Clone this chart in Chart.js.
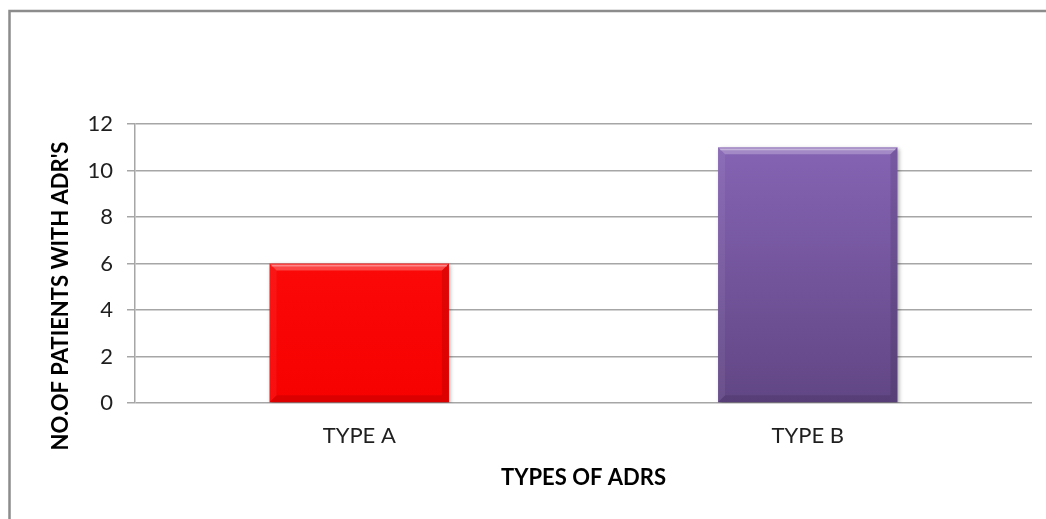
<!DOCTYPE html>
<html>
<head>
<meta charset="utf-8">
<title>Types of ADRs</title>
<script src="https://cdn.jsdelivr.net/npm/chart.js@4/dist/chart.umd.min.js"></script>
<style>
  html, body { margin: 0; padding: 0; background: #ffffff; }
  #wrap { position: relative; width: 1046px; height: 519px; }
</style>
</head>
<body>
<div id="wrap"><canvas id="chart" width="1046" height="519"></canvas></div>
<script>
// Chart data
const categories = ['TYPE A', 'TYPE B'];
const patientCounts = [6, 11];
const xAxisTitle = 'TYPES OF ADRS';
const yAxisTitle = "NO.OF PATIENTS WITH ADR'S";

// Fill colours per bar: [top, bottom] of a vertical gradient
const barShades = [
  ['#ff1010', '#f70000'],
  ['#8866b8', '#614684']
];

const FONT = 'Lato, "Open Sans", sans-serif';

function barFill(ctx) {
  const chart = ctx.chart;
  const area = chart.chartArea;
  const shade = barShades[ctx.dataIndex % barShades.length];
  if (!area) return shade[0];
  const g = chart.ctx.createLinearGradient(0, area.top, 0, area.bottom);
  g.addColorStop(0, shade[0]);
  g.addColorStop(1, shade[1]);
  return g;
}

// Frame around the chart, white background
const framePlugin = {
  id: 'frame',
  beforeDraw(chart) {
    const c = chart.ctx;
    c.save();
    c.fillStyle = '#ffffff';
    c.fillRect(0, 0, chart.width, chart.height);
    c.strokeStyle = '#8c8c8c';
    c.lineWidth = 2.5;
    c.strokeRect(9.5, 11, chart.width + 20, chart.height + 20);
    c.restore();
  }
};

// Soft drop shadow under the bars plus a bevelled rim
const bevelPlugin = {
  id: 'bevel',
  beforeDatasetsDraw(chart) {
    const c = chart.ctx;
    c.save();
    c.shadowColor = 'rgba(0,0,0,0.35)';
    c.shadowBlur = 4;
    c.shadowOffsetX = 1.5;
    c.shadowOffsetY = 1.5;
  },
  afterDatasetsDraw(chart) {
    const c = chart.ctx;
    c.restore();
    const meta = chart.getDatasetMeta(0);
    meta.data.forEach((bar) => {
      const p = bar.getProps(['x', 'y', 'base', 'width'], true);
      const l = p.x - p.width / 2, r = p.x + p.width / 2;
      const t = p.y, b = p.base, d = 7;
      c.save();
      // top rim (light)
      c.beginPath();
      c.moveTo(l, t); c.lineTo(r, t); c.lineTo(r - d, t + d); c.lineTo(l + d, t + d); c.closePath();
      c.fillStyle = 'rgba(255,255,255,0.25)';
      c.fill();
      // left rim (slightly light)
      c.beginPath();
      c.moveTo(l, t); c.lineTo(l + d, t + d); c.lineTo(l + d, b - d); c.lineTo(l, b); c.closePath();
      c.fillStyle = 'rgba(255,255,255,0.06)';
      c.fill();
      // right rim (dark)
      c.beginPath();
      c.moveTo(r, t); c.lineTo(r - d, t + d); c.lineTo(r - d, b - d); c.lineTo(r, b); c.closePath();
      c.fillStyle = 'rgba(0,0,0,0.10)';
      c.fill();
      // bottom rim (dark)
      c.beginPath();
      c.moveTo(l, b); c.lineTo(l + d, b - d); c.lineTo(r - d, b - d); c.lineTo(r, b); c.closePath();
      c.fillStyle = 'rgba(0,0,0,0.10)';
      c.fill();
      // thin highlight line along the top
      c.fillStyle = 'rgba(255,255,255,0.35)';
      c.fillRect(l + 2, t + 1.5, p.width - 4, 1.5);
      c.restore();
    });
  }
};

// Vertical axis title, placed to the left of the tick labels
const yTitlePlugin = {
  id: 'yTitle',
  afterDraw(chart) {
    const c = chart.ctx;
    c.save();
    c.translate(61, 296);
    c.rotate(-Math.PI / 2);
    c.font = 'bold 22px ' + FONT;
    c.fillStyle = '#000000';
    c.textAlign = 'center';
    c.textBaseline = 'middle';
    c.fillText(yAxisTitle, 0, 0);
    c.restore();
  }
};

new Chart(document.getElementById('chart'), {
  type: 'bar',
  data: {
    labels: categories,
    datasets: [{
      data: patientCounts,
      backgroundColor: barFill,
      borderWidth: 0,
      categoryPercentage: 0.8,
      barPercentage: 0.5
    }]
  },
  options: {
    responsive: false,
    animation: false,
    events: [],
    layout: { padding: { top: 124, right: 14, left: 0, bottom: 0 } },
    plugins: {
      legend: { display: false },
      tooltip: { enabled: false },
      title: { display: false }
    },
    scales: {
      x: {
        grid: { display: false, drawTicks: false },
        border: { display: false },
        ticks: {
          color: '#1f1f1f',
          font: { family: FONT, size: 22 },
          padding: 20
        },
        title: {
          display: true,
          text: xAxisTitle,
          color: '#000000',
          font: { family: FONT, size: 22, weight: 'bold' },
          padding: { top: 0, bottom: 28 }
        },
        afterFit(scale) { scale.height = 116; }
      },
      y: {
        min: 0,
        max: 12,
        ticks: {
          stepSize: 2,
          color: '#1f1f1f',
          font: { family: FONT, size: 22 },
          padding: 14
        },
        grid: {
          color: '#a6a6a6',
          lineWidth: 1.5,
          tickLength: 8,
          drawTicks: true
        },
        border: { display: true, color: '#a6a6a6', width: 1.5 },
        afterFit(scale) { scale.width = 135; }
      }
    }
  },
  plugins: [framePlugin, bevelPlugin, yTitlePlugin]
});
</script>
</body>
</html>
